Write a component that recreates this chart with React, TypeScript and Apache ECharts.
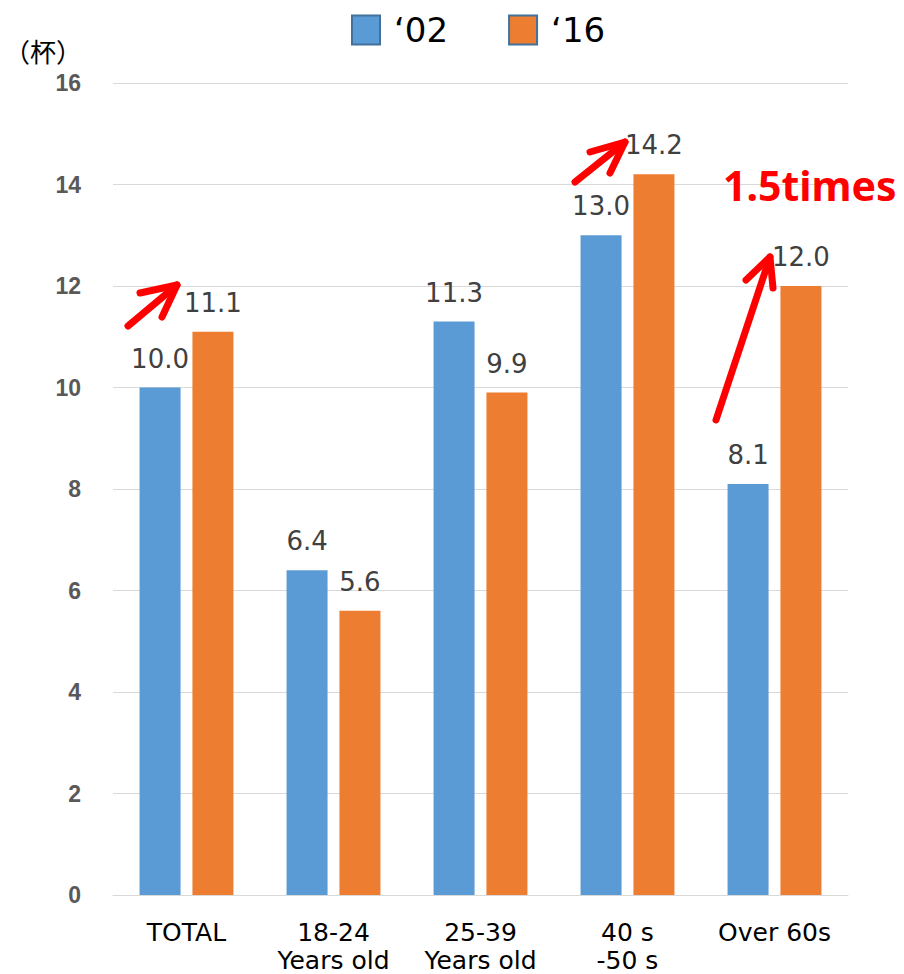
import React, { useEffect, useRef } from "react";
import * as echarts from "echarts";

const categories = ["TOTAL", "18-24\nYears old", "25-39\nYears old", "40 s\n-50 s", "Over 60s"];
const seriesNames = ["‘02", "‘16"];
const values02 = [10.0, 6.4, 11.3, 13.0, 8.1];
const values16 = [11.1, 5.6, 9.9, 14.2, 12.0];
const yTicks = { min: 0, max: 16, interval: 2 };
const unitLabel = "（杯）";
const note = "1.5times";

const arrowStyle = {
  stroke: "#FF0000",
  lineWidth: 7,
  lineCap: "round",
  lineJoin: "round",
  fill: null,
};

function arrow(tail: number[], tip: number[], arm1: number[], arm2: number[]) {
  return [
    { type: "polyline", shape: { points: [tail, tip] }, style: arrowStyle, z: 100 },
    { type: "polyline", shape: { points: [arm1, tip, arm2] }, style: arrowStyle, z: 100 },
  ];
}

export default function App() {
  const ref = useRef<HTMLDivElement>(null);
  useEffect(() => {
    if (!ref.current) return;
    const chart = echarts.init(ref.current, null, { renderer: "svg" });
    const labelStyle = {
      show: true,
      position: "top",
      distance: 16,
      color: "#404040",
      fontFamily: "DejaVu Sans",
      fontSize: 26,
      formatter: (p: any) => Number(p.value).toFixed(1),
    };
    chart.setOption({
      animation: false,
      backgroundColor: "#ffffff",
      grid: { left: 113, right: 56, top: 83, bottom: 77, containLabel: false },
      legend: {
        left: 346,
        top: 8,
        itemWidth: 28,
        itemHeight: 29,
        itemGap: 60,
        icon: "rect",
        itemStyle: { borderColor: "#41719C", borderWidth: 2 },
        textStyle: {
          fontFamily: "DejaVu Sans",
          fontSize: 34,
          color: "#000000",
          padding: [0, 0, 0, 9],
        },
        data: seriesNames,
      },
      xAxis: {
        type: "category",
        data: categories,
        axisTick: { show: false },
        axisLine: { lineStyle: { color: "#d9d9d9", width: 1 } },
        axisLabel: {
          interval: 0,
          color: "#000000",
          fontFamily: "DejaVu Sans",
          fontSize: 25,
          lineHeight: 28,
          margin: 23,
        },
      },
      yAxis: {
        type: "value",
        min: yTicks.min,
        max: yTicks.max,
        interval: yTicks.interval,
        axisLine: { show: false },
        axisTick: { show: false },
        splitLine: { lineStyle: { color: "#d9d9d9", width: 1 } },
        axisLabel: {
          color: "#595959",
          fontFamily: "Liberation Sans",
          fontWeight: "bold",
          fontSize: 23,
          margin: 32,
        },
      },
      series: [
        {
          name: seriesNames[0],
          type: "bar",
          data: values02,
          barWidth: 41,
          barGap: "29%",
          itemStyle: { color: "#5B9BD5" },
          label: labelStyle,
        },
        {
          name: seriesNames[1],
          type: "bar",
          data: values16,
          barWidth: 41,
          barGap: "29%",
          itemStyle: { color: "#ED7D31" },
          label: labelStyle,
        },
      ],
      graphic: [
        {
          type: "text",
          x: 4,
          y: 37,
          style: {
            text: unitLabel,
            font: '26px "Noto Sans CJK JP"',
            fill: "#000000",
          },
        },
        {
          type: "text",
          x: 723,
          y: 164,
          style: {
            text: note,
            font: 'bold 41px "Noto Sans"',
            fill: "#FF0000",
          },
          z: 100,
        },
        ...arrow([128, 326], [177, 285], [140, 293], [162, 317]),
        ...arrow([575, 182], [625, 142], [590, 152], [610, 173]),
        ...arrow([716, 420], [770, 257], [746, 280], [773, 288]),
      ],
    });
    return () => chart.dispose();
  }, []);
  return (
    <div
      ref={ref}
      style={{ position: "absolute", left: 0, top: 0, width: 904, height: 974 }}
    />
  );
}
